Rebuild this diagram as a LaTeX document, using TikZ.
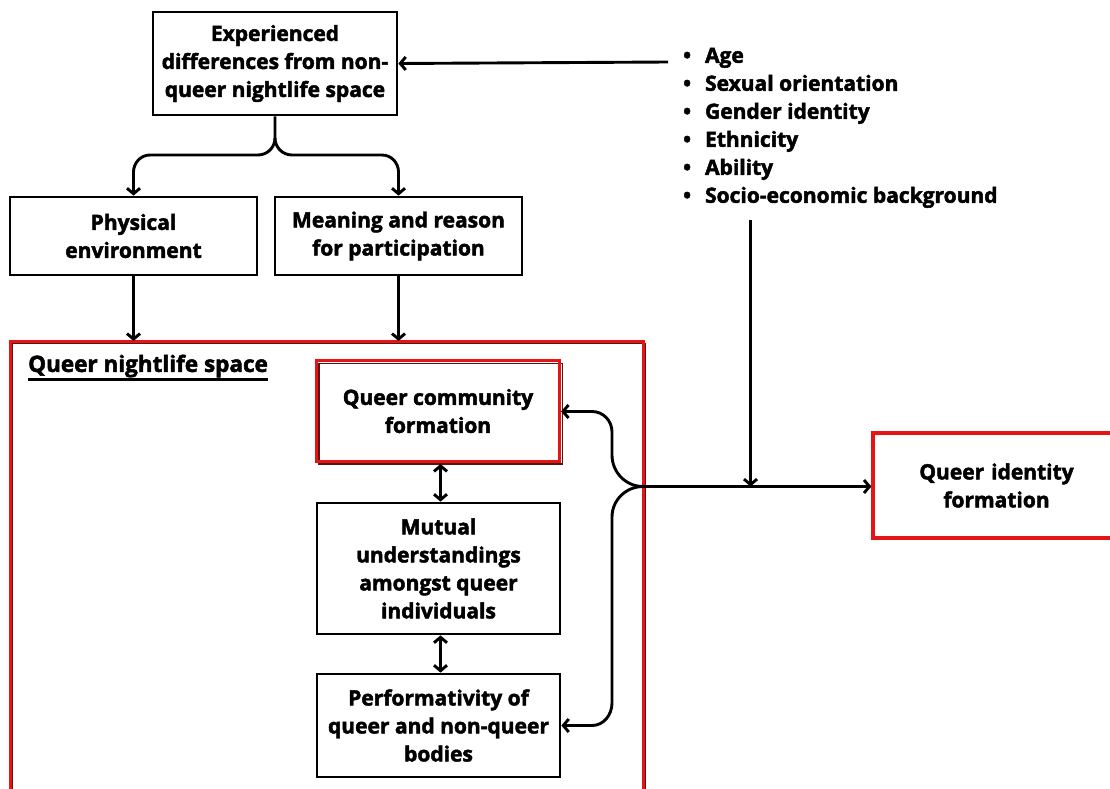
\documentclass[tikz,border=0pt]{standalone}
\usepackage{fontspec}
\setmainfont{Open Sans}[BoldFeatures={FakeBold=2.2}]
\usetikzlibrary{arrows.meta}
\definecolor{qred}{RGB}{230,20,20}
\definecolor{qshadow}{RGB}{90,20,20}
\tikzset{
  txt/.style={font=\fontsize{21}{28}\selectfont\bfseries, align=center, inner sep=0pt},
  box/.style={txt, draw=black, line width=2.7pt},
  redbox/.style={txt, draw=qred, line width=3.2pt},
  tipb/.tip={Straight Barb[length=5.5pt,width=13pt]},
  conn/.style={line width=2.9pt, -tipb},
  dconn/.style={line width=2.9pt, tipb-tipb},
  plain/.style={line width=2.6pt}
}
\begin{document}
\begin{tikzpicture}[x=1pt,y=-1pt]
\useasboundingbox (0,0) rectangle (1110,789);
\clip (0,0) rectangle (1110,789);
% big red container
\draw[qshadow, line width=1.6pt] (12.5,343.5) rectangle (645.5,805);
\draw[qred, line width=3pt] (10,341) rectangle (643,805);
\node[txt, anchor=west, font=\fontsize{22.5}{28}\selectfont\bfseries] (qns) at (28,366) {Queer nightlife space};
\draw[plain] ([yshift=-2pt]qns.south west) -- ([yshift=-2pt]qns.south east);

\node[box, minimum width=244pt, minimum height=103pt] (top) at (275,63.5) {Experienced\\differences from non-\\queer nightlife space};
\node[box, minimum width=247pt, minimum height=78pt] (phys) at (133.5,236) {Physical\\environment};
\node[box, minimum width=247pt, minimum height=78pt] (mean) at (398.5,236) {Meaning and reason\\for participation};

% community box with shadow
\draw[qshadow, line width=1.8pt] (319,363.5) rectangle (562.5,464);
\node[redbox, minimum width=243pt, minimum height=101pt] (comm) at (438,411) {Queer community\\formation};
\node[box, minimum width=243pt, minimum height=131pt] (mut) at (438.5,568.5) {Mutual\\understandings\\amongst queer\\individuals};
\node[box, minimum width=243pt, minimum height=103pt] (perf) at (438.5,725.5) {Performativity of\\queer and non-queer\\bodies};

\node[redbox, minimum width=247pt, minimum height=105pt, text width=247pt] (qid) at (996.5,485.5) {Queer identity\\formation};

\node[txt, anchor=north west, align=left] (list) at (683,43) {%
\begin{tabular}{@{}l@{\hspace{14pt}}l@{}}
\textbullet & Age\\
\textbullet & Sexual orientation\\
\textbullet & Gender identity\\
\textbullet & Ethnicity\\
\textbullet & Ability\\
\textbullet & Socio-economic background
\end{tabular}};

\coordinate (lstart) at (668,62);
\coordinate (ldown) at (750.5,220);
\coordinate (tip) at (643,486.5);
\coordinate (meet) at (750.5,486.5);

% top brace
\draw[conn] (top.south) -- (275,138) to[out=-90,in=0] (258,155) -- (150,155) to[out=180,in=90] (133.5,172) -- (phys.north);
\draw[conn] (275,138) to[out=-90,in=180] (292,155) -- (382,155) to[out=0,in=90] (398.5,172) -- (mean.north);

% down arrows into red container
\draw[conn] (phys.south) -- (133.5,341);
\draw[conn] (mean.south) -- (398.5,341);

% list arrows
\draw[conn] (lstart) -- (top.east);
\draw[conn] (ldown) -- (meet);

% vertical double arrows
\draw[dconn] (440.5,464) -- (mut.north -| 440.5,0);
\draw[dconn] (mut.south -| 440.5,0) -- (perf.north -| 440.5,0);

% right brace
\draw[conn] (tip) to[out=180,in=-90] (612,455) -- (612,432) to[out=90,in=0] (592,411.5) -- (comm.east |- 0,411.5);
\draw[conn] (tip) to[out=180,in=90] (612,517) -- (612,703) to[out=-90,in=0] (592,725.5) -- (perf.east);

% to identity
\draw[conn] (tip) -- (qid.west |- tip);
\end{tikzpicture}
\end{document}
